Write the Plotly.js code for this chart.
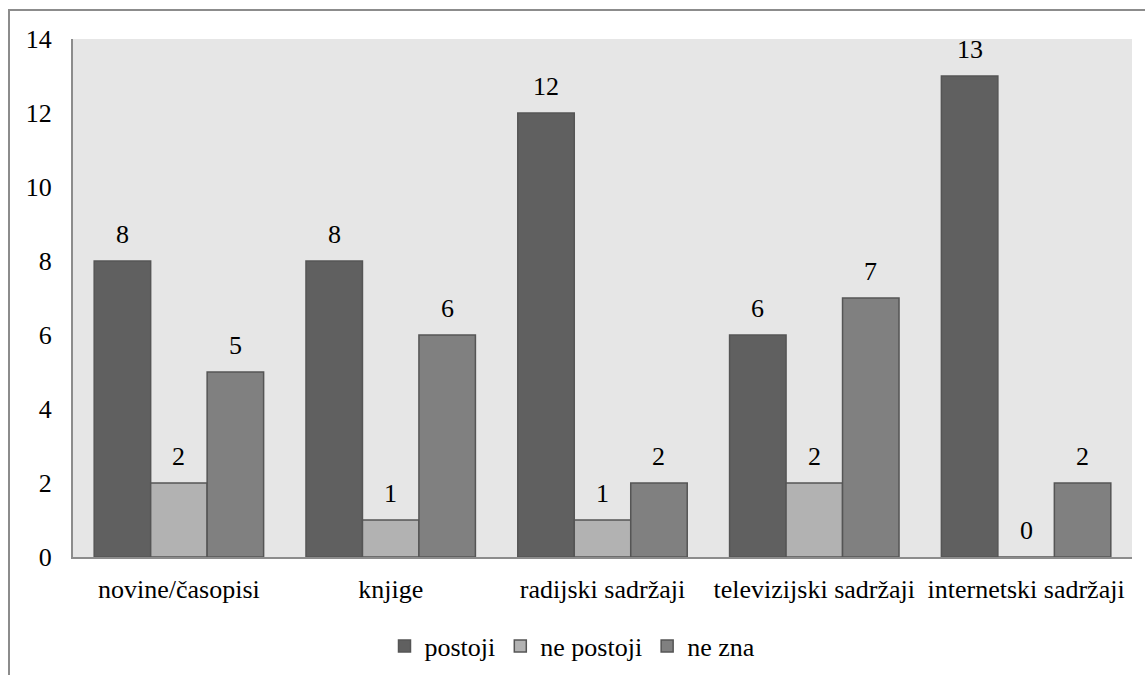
<!DOCTYPE html>
<html><head><meta charset="utf-8">
<script src="https://cdn.plot.ly/plotly-3.0.1.min.js"></script>
<style>html,body{margin:0;padding:0;background:#fff;}#wrap{position:relative;width:1145px;height:675px;overflow:hidden;}
#chart text{font-family:'Liberation Serif','Times New Roman',serif !important;}
#frame{position:absolute;left:8px;top:9px;width:1200px;height:720px;border:2px solid #8c8c8c;pointer-events:none;}</style>
</head><body><div id="wrap"><div id="chart" style="width:1145px;height:675px;"></div><div id="frame"></div></div>
<script>
const categories = ["novine/časopisi", "knjige", "radijski sadržaji", "televizijski sadržaji", "internetski sadržaji"];
const postoji = [8, 8, 12, 6, 13];
const nePostoji = [2, 1, 1, 2, 0];
const neZna = [5, 6, 2, 7, 2];
const seriesNames = ["postoji", "ne postoji", "ne zna"];
const colors = ["#606060", "#b2b2b2", "#808080"];
const yTicks = [0, 2, 4, 6, 8, 10, 12, 14];

const W = 1145, H = 675, M = {l: 73, r: 13, t: 39, b: 118};
const bargap = 0.2;
const mkFont = () => ({family: "Liberation Serif, Times New Roman, serif", size: 26, color: "#000000"});
const series = [postoji, nePostoji, neZna];
const data = series.map((vals, i) => ({
  type: "bar", name: seriesNames[i], x: categories, y: vals,
  marker: {color: colors[i], line: {color: "#555555", width: 1.5}}
}));
const catW = (W - M.l - M.r) / categories.length;
const barW = catW * (1 - bargap) / series.length;
const annotations = [];
series.forEach((vals, i) => {
  vals.forEach((v, j) => {
    annotations.push({x: categories[j], y: v, xref: "x", yref: "y", text: String(v),
      showarrow: false, xshift: (i - (series.length - 1) / 2) * barW, yshift: 27,
      yanchor: "middle", font: mkFont()});
  });
});
const layout = {
  width: W, height: H, margin: M,
  paper_bgcolor: "#ffffff", plot_bgcolor: "#e6e6e6",
  font: mkFont(),
  barmode: "group", bargap: bargap, bargroupgap: 0,
  showlegend: true,
  legend: {orientation: "h", x: 0.5, xanchor: "center", xref: "container", yref: "container", y: 0.043, yanchor: "middle",
    font: mkFont(), itemwidth: 30, tracegroupgap: 0},
  annotations: annotations,
  xaxis: {type: "category", automargin: false, showgrid: false, zeroline: false, showline: true, linecolor: "#8c8c8c", linewidth: 2,
    ticks: "", ticklabelstandoff: 8, tickfont: mkFont()},
  yaxis: {range: [0, 14], automargin: false, tickvals: yTicks, ticktext: yTicks.map(String), showgrid: false, zeroline: false,
    showline: true, linecolor: "#8c8c8c", linewidth: 2, ticks: "", ticklabelstandoff: 14, tickfont: mkFont()}
};
Plotly.newPlot("chart", data, layout, {displayModeBar: false, staticPlot: true});
</script></body></html>
